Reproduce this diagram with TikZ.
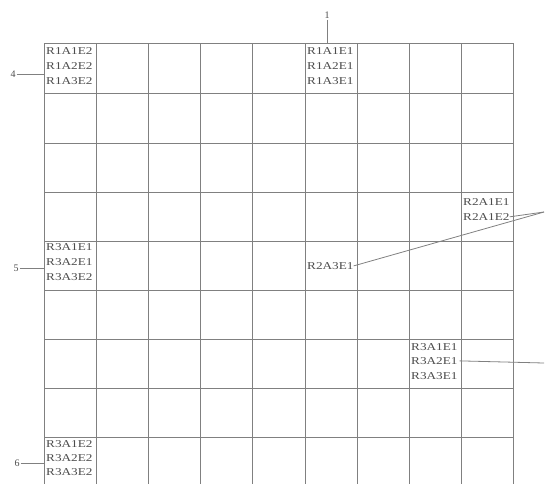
\documentclass[tikz,border=0pt]{standalone}
\usepackage{fontspec}
\setmainfont{Liberation Serif}
\definecolor{ln}{gray}{0.5}
\definecolor{tx}{gray}{0.3}
\tikzset{
  gridline/.style={draw=ln, line width=1pt},
  conn/.style={draw=ln, line width=0.8pt},
  cell/.style={anchor=mid west, inner sep=0pt, text=tx, font=\fontsize{10.5}{12}\selectfont},
  lbl/.style={inner sep=1pt, text=tx, font=\fontsize{10}{12}\selectfont},
}
\newcommand{\ct}[1]{\scalebox{1.26}[1]{#1}}
\begin{document}
\begin{tikzpicture}[x=1pt,y=-1pt]
\useasboundingbox (0,0) rectangle (546,483);
% grid
\foreach \xx in {44,96,148,200,252,305,357,409,461,513}
  \draw[gridline] (\xx,43) -- (\xx,490);
\foreach \yy in {43,93,143,192,241,290,339,388,437}
  \draw[gridline] (44,\yy) -- (513,\yy);
\coordinate (gl) at (44,0);
\coordinate (gt) at (0,43);
% block A
\node[cell] (a1) at (46,52) {\ct{R1A1E2}};
\node[cell] (a2) at (46,67) {\ct{R1A2E2}};
\node[cell] (a3) at (46,82) {\ct{R1A3E2}};
% block B
\node[cell] (b1) at (307,52) {\ct{R1A1E1}};
\node[cell] (b2) at (307,67) {\ct{R1A2E1}};
\node[cell] (b3) at (307,82) {\ct{R1A3E1}};
% block C
\node[cell] (c1) at (463,203) {\ct{R2A1E1}};
\node[cell] (c2) at (463,218) {\ct{R2A1E2}};
% block D
\node[cell] (d1) at (307,267) {\ct{R2A3E1}};
% block E
\node[cell] (e1) at (46,248) {\ct{R3A1E1}};
\node[cell] (e2) at (46,263) {\ct{R3A2E1}};
\node[cell] (e3) at (46,278) {\ct{R3A3E2}};
% block F
\node[cell] (f1) at (411,348) {\ct{R3A1E1}};
\node[cell] (f2) at (411,362) {\ct{R3A2E1}};
\node[cell] (f3) at (411,377) {\ct{R3A3E1}};
% block G
\node[cell] (g1) at (46,445) {\ct{R3A1E2}};
\node[cell] (g2) at (46,459) {\ct{R3A2E2}};
\node[cell] (g3) at (46,473) {\ct{R3A3E2}};
% labels
\node[lbl] (l1) at (327,15) {1};
\node[lbl] (l4) at (13,74) {4};
\node[lbl] (l5) at (16,268) {5};
\node[lbl] (l6) at (17,463) {6};
\coordinate (r1) at (544,212);
\coordinate (r2) at (544,363);
% connectors
\draw[conn] (l1.south) -- (l1.south |- gt);
\draw[conn] (l4.east) -- (l4.east -| gl);
\draw[conn] (l5.east) -- (l5.east -| gl);
\draw[conn] (l6.east) -- (l6.east -| gl);
\draw[conn] (c2.east) -- (r1);
\draw[conn] (d1.east) -- (r1);
\draw[conn] (f2.east) ++(2,0) -- (r2);
\end{tikzpicture}
\end{document}
